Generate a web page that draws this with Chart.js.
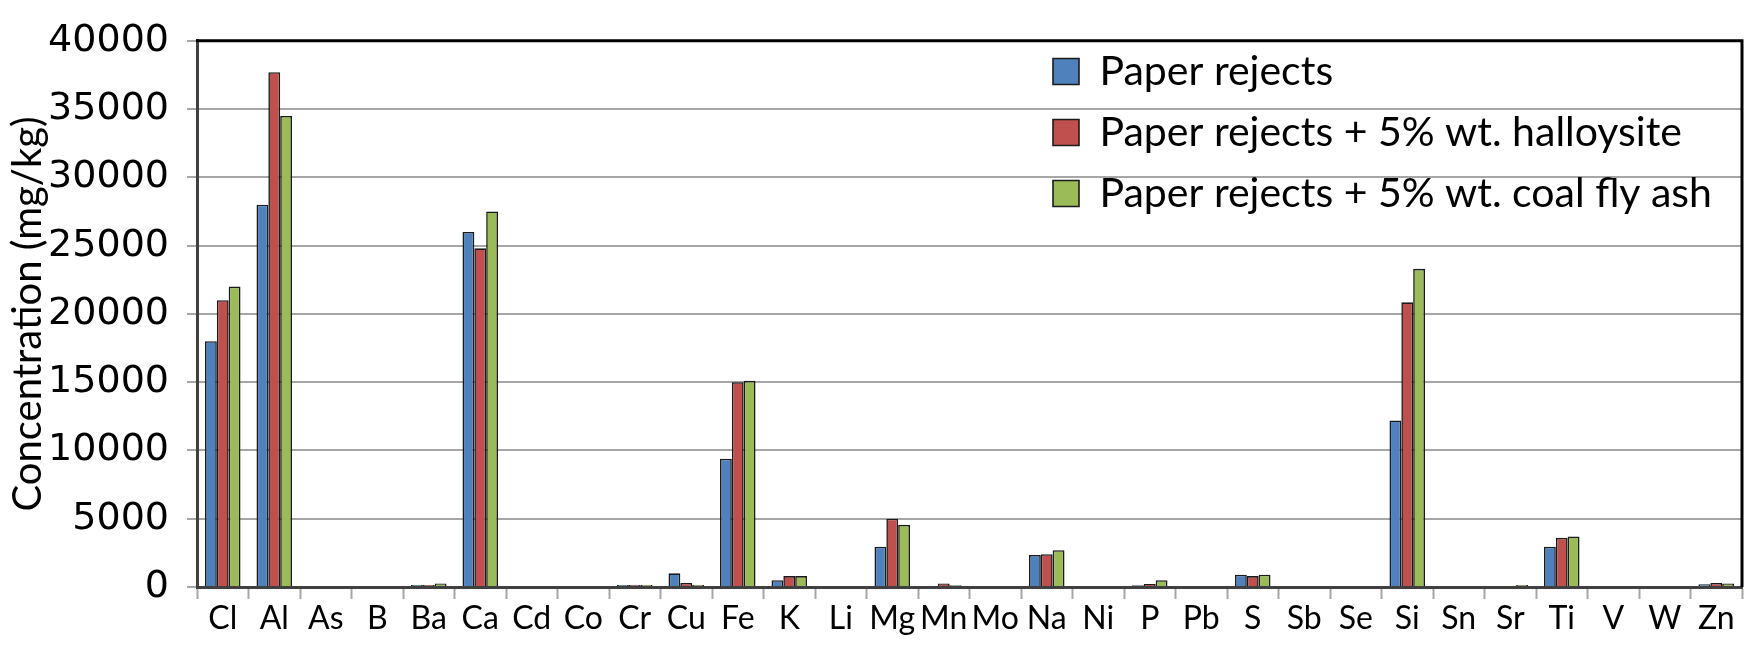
<html>
<body style="margin:0;background:#ffffff;">
<div style="position:relative;width:1748px;height:649px;">
    <canvas id="conc_chart"></canvas>
</div>

<script src="https://cdn.jsdelivr.net/npm/chart.js"></script>

<script>
    // elements on the x axis
    var elements = ['Cl', 'Al', 'As', 'B', 'Ba', 'Ca', 'Cd', 'Co', 'Cr', 'Cu', 'Fe', 'K', 'Li', 'Mg', 'Mn',
        'Mo', 'Na', 'Ni', 'P', 'Pb', 'S', 'Sb', 'Se', 'Si', 'Sn', 'Sr', 'Ti', 'V', 'W', 'Zn'];

    // concentrations in mg/kg
    var paperRejects = [18000, 28000, 0, 0, 150, 26000, 0, 0, 150, 1000, 9400, 500, 0, 2950, 30,
        0, 2350, 0, 120, 0, 900, 0, 0, 12200, 0, 0, 2950, 0, 0, 200];
    var withHalloysite = [21000, 37700, 0, 0, 150, 24800, 0, 0, 150, 300, 15000, 800, 0, 5000, 250,
        0, 2400, 0, 220, 0, 800, 0, 0, 20850, 0, 0, 3600, 0, 0, 300];
    var withFlyAsh = [22000, 34500, 0, 0, 250, 27500, 0, 0, 150, 150, 15100, 800, 0, 4550, 120,
        0, 2700, 0, 500, 0, 900, 0, 0, 23300, 0, 150, 3700, 0, 0, 250];

    var seriesNames = ['Paper rejects', 'Paper rejects + 5% wt. halloysite', 'Paper rejects + 5% wt. coal fly ash'];
    var seriesColors = ['#4f81bd', '#c0504d', '#9bbb59'];

    var yMin = 0;
    var yMax = 40000;
    var yStep = 5000;

    // black frame on top and right like the excel plot area
    var framePlugin = {
        id: 'frame',
        afterDatasetsDraw(chart) {
            var a = chart.chartArea;
            var ctx = chart.ctx;
            ctx.save();
            ctx.strokeStyle = '#000000';
            ctx.lineWidth = 3;
            ctx.beginPath();
            ctx.moveTo(a.left - 1, a.top);
            ctx.lineTo(a.right, a.top);
            ctx.lineTo(a.right, a.bottom);
            ctx.stroke();
            ctx.restore();
        }
    };

    // put the legend inside the plot, upper right
    var legendSpot = {
        id: 'legendSpot',
        afterLayout(chart) {
            var lg = chart.legend;
            var w = lg.width, h = lg.height;
            lg.left = 1033;
            lg.right = lg.left + w;
            lg.top = 31;
            lg.bottom = lg.top + h;
        }
    };

    var datasets = [paperRejects, withHalloysite, withFlyAsh].map((vals, i) => ({
        label: seriesNames[i],
        data: vals,
        backgroundColor: seriesColors[i],
        borderColor: '#1a1a1a',
        borderWidth: 1.6,
        categoryPercentage: 0.69,
        barPercentage: 1.0
    }));

    var concChart = new Chart(document.getElementById('conc_chart'), {
        type: 'bar',
        data: {
            labels: elements,
            datasets: datasets
        },
        plugins: [framePlugin, legendSpot],
        options: {
            responsive: true,
            maintainAspectRatio: false,
            animation: false,
            devicePixelRatio: 1,
            layout: {
                padding: {top: 21, right: 6, left: 0, bottom: 0}
            },
            plugins: {
                legend: {
                    position: 'chartArea',
                    align: 'start',
                    labels: {
                        color: '#000000',
                        font: {family: 'Lato', size: 41},
                        boxWidth: 26,
                        boxHeight: 26,
                        padding: 20
                    }
                },
                tooltip: {enabled: false}
            },
            scales: {
                x: {
                    grid: {
                        offset: true,
                        drawOnChartArea: false,
                        drawTicks: true,
                        tickLength: 12,
                        tickColor: '#a6a6a6',
                        tickWidth: 2
                    },
                    border: {color: '#404040', width: 3},
                    ticks: {
                        color: '#000000',
                        font: {family: 'Lato', size: 32},
                        padding: 0,
                        maxRotation: 0,
                        autoSkip: false
                    },
                    afterFit(scale) {
                        scale.height = 62;
                    }
                },
                y: {
                    min: yMin,
                    max: yMax,
                    ticks: {
                        stepSize: yStep,
                        color: '#000000',
                        font: {family: 'DejaVu Sans', size: 38},
                        padding: 18,
                        callback: (v) => String(v)
                    },
                    grid: {
                        color: '#a6a6a6',
                        lineWidth: 2,
                        tickLength: 10,
                        tickColor: '#a6a6a6'
                    },
                    border: {color: '#404040', width: 3},
                    title: {
                        display: true,
                        text: 'Concentration (mg/kg)',
                        color: '#000000',
                        font: {family: 'Lato', size: 40},
                        padding: {top: 4, bottom: 0}
                    },
                    afterFit(scale) {
                        scale.width = 197;
                    }
                }
            }
        }
    });
</script>
</body>
</html>
